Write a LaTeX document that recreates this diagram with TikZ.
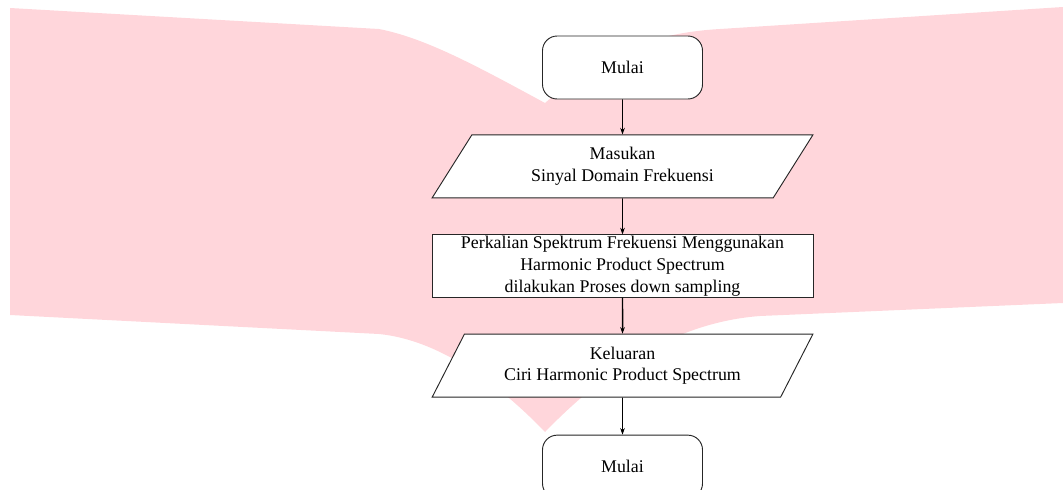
\documentclass[tikz,border=0pt]{standalone}
\usepackage{fontspec}
\setmainfont{Liberation Serif}
\usetikzlibrary{positioning, shapes.geometric, arrows.meta}
\definecolor{wmpink}{RGB}{255,214,219}
\newcommand{\flowfont}{\fontsize{13.4}{16.3}\selectfont}
\tikzset{term/.style={draw=black!85, fill=white, rounded corners=11pt, minimum width=120pt, minimum height=47.25pt, align=center, font=\flowfont}}
\tikzset{iobox/.style={draw=black!85, fill=white, trapezium, trapezium left angle=59, trapezium right angle=121, trapezium stretches=true, minimum width=285.75pt, minimum height=47.25pt, inner sep=1pt, align=center, font=\flowfont}}
\tikzset{procbox/.style={draw=black!85, fill=white, rectangle, minimum width=285.75pt, minimum height=46.5pt, inner sep=1pt, align=center, font=\flowfont}}
\tikzset{arr/.style={draw, -{Stealth[length=5pt, width=3.5pt]}, line width=0.6pt}}

\begin{document}
\begin{tikzpicture}[x=0.75pt, y=-0.75pt, line width=0.7pt, node distance=27pt]
			\useasboundingbox (0,0) rectangle (1063,489);
			% watermark behind the flow
			\fill[wmpink] (10,8) -- (379,29) .. controls (425,38) and (475,65) .. (545,103)
				.. controls (600,55) and (650,33) .. (720,29) -- (1063,7) -- (1063,303) -- (760,316)
				.. controls (680,322) and (610,365) .. (545,432)
				.. controls (500,385) and (440,340) .. (379,334) -- (10,315) -- cycle;
			%
			\node[term] (mulai) at (622.5,67.5) {Mulai};
			\node[iobox, below=26.25pt of mulai] (masukan) {Masukan\\Sinyal Domain Frekuensi};
			\node[procbox, below=of masukan] (hps) {Perkalian Spektrum Frekuensi Menggunakan\\Harmonic Product Spectrum\\dilakukan Proses down sampling};
			\node[iobox, below=of hps] (keluaran) {Keluaran\\Ciri Harmonic Product Spectrum};
			\node[term, below=27.75pt of keluaran] (selesai) {Mulai};
			%
			\draw[arr] (mulai) -- (masukan);
			\draw[arr] (masukan) -- (hps);
			\draw[arr, line width=1.1pt] (hps) -- (keluaran);
			\draw[arr] (keluaran) -- (selesai);
\end{tikzpicture}
\end{document}
